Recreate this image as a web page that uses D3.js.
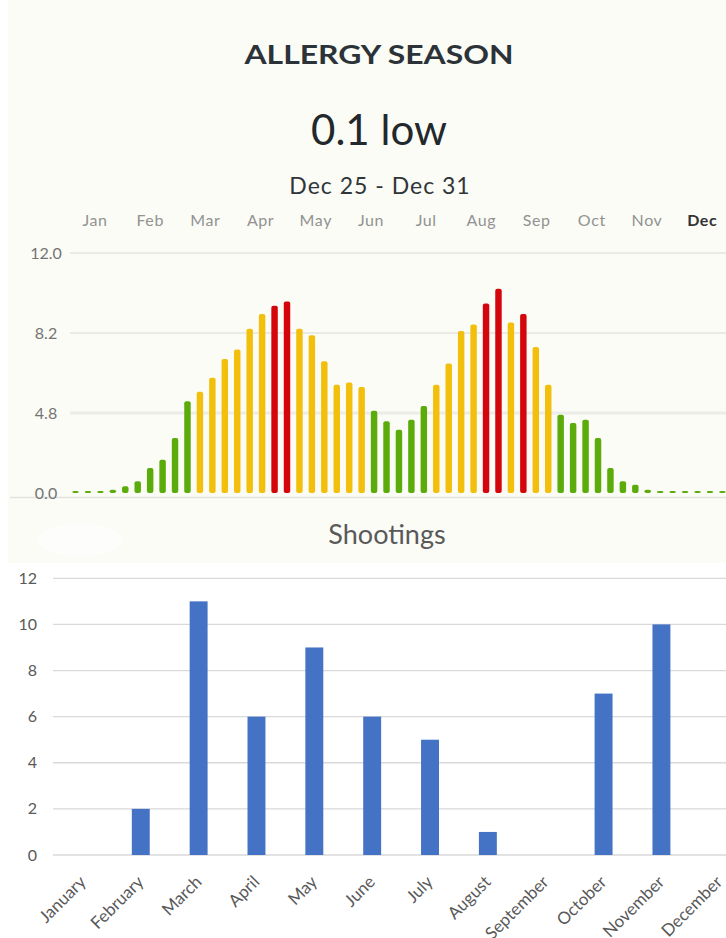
<!DOCTYPE html>
<html><head><meta charset="utf-8">
<script src="https://cdn.jsdelivr.net/npm/d3@7"></script>
<style>html,body{margin:0;padding:0;background:#fff;overflow:hidden}svg{display:block}</style>
</head><body>
<svg id="c" width="726" height="938"></svg>
<script>
// ---- Allergy data (weekly pollen index) ----
const allergyValues = [0.1,0.1,0.1,0.2,0.4,0.7,1.5,2.0,3.3,5.3,5.7,6.3,7.1,7.5,8.4,9.1,9.5,9.7,8.4,8.1,7.0,6.0,6.1,5.9,4.9,4.3,3.8,4.4,5.1,6.0,6.9,8.3,8.6,9.6,10.3,8.7,9.1,7.6,6.0,4.7,4.2,4.4,3.3,1.5,0.7,0.5,0.2,0.1,0.1,0.1,0.1,0.1,0.1];
const allergyLevels = ["L","L","L","L","L","L","L","L","L","L","M","M","M","M","M","M","H","H","M","M","M","M","M","M","L","L","L","L","L","M","M","M","M","H","H","M","H","M","M","L","L","L","L","L","L","L","L","L","L","L","L","L","L"];
const allergyTicks = [0.0, 4.8, 8.2, 12.0];
const monthShort = ["Jan","Feb","Mar","Apr","May","Jun","Jul","Aug","Sep","Oct","Nov","Dec"];
const levelColors = {L:"#5bab0b", M:"#f2c00c", H:"#d4060c"};

// ---- Shootings data ----
const shootMonths = ["January","February","March","April","May","June","July","August","September","October","November","December"];
const shootValues = [0,2,11,6,9,6,5,1,0,7,10,0];
const shootTicks = [0,2,4,6,8,10,12];

const svg = d3.select("#c");

// backgrounds
svg.append("rect").attr("x",0).attr("y",0).attr("width",726).attr("height",938).attr("fill","#ffffff");
svg.append("rect").attr("x",8).attr("y",0).attr("width",718).attr("height",563).attr("fill","#fbfcf6");
svg.append("ellipse").attr("cx",80).attr("cy",540).attr("rx",42).attr("ry",16).attr("fill","#ffffff").attr("opacity",0.55);

// ---- Allergy header ----
const F1 = "Lato, 'Open Sans', sans-serif";
svg.append("text").attr("x",379).attr("y",64).attr("text-anchor","middle")
  .attr("font-family",F1).attr("font-weight",700).attr("font-size",26)
  .attr("textLength",269).attr("lengthAdjust","spacingAndGlyphs")
  .attr("fill","#2c3338").text("ALLERGY SEASON");
svg.append("text").attr("x",379).attr("y",145).attr("text-anchor","middle")
  .attr("font-family",F1).attr("font-weight",400).attr("font-size",42)
  .attr("fill","#23282c").text("0.1 low");
svg.append("text").attr("x",380).attr("y",194).attr("text-anchor","middle")
  .attr("font-family",F1).attr("font-weight",400).attr("font-size",23)
  .attr("letter-spacing",1).attr("fill","#30353a").text("Dec 25 - Dec 31");

// month scale
const xm = d3.scaleBand().domain(monthShort).range([67.4, 729.8]);
svg.append("g").selectAll("text").data(monthShort).join("text")
  .attr("x", d => xm(d) + xm.bandwidth()/2).attr("y", 226)
  .attr("text-anchor","middle").attr("font-family",F1).attr("font-size",16)
  .attr("letter-spacing",0.6)
  .attr("font-weight", d => d==="Dec" ? 700 : 400)
  .attr("fill", d => d==="Dec" ? "#333" : "#929292").text(d => d);

// y scale (piecewise, equally spaced ticks)
const ya = d3.scaleLinear().domain(allergyTicks).range([493,413,333,253]);
const ga = svg.append("g");
allergyTicks.slice(1).forEach(t => {
  ga.append("line").attr("x1",70).attr("x2",726).attr("y1",ya(t)).attr("y2",ya(t))
    .attr("stroke", t===4.8 ? "#ececea" : "#e4e4e2").attr("stroke-width", t===4.8 ? 3 : 1.5);
});
ga.append("line").attr("x1",10).attr("x2",726).attr("y1",497.5).attr("y2",497.5).attr("stroke","#e2e2e0").attr("stroke-width",1.5);
ga.selectAll("text").data(allergyTicks).join("text")
  .attr("x",46).attr("y", d => ya(d) + 6).attr("text-anchor","middle")
  .attr("font-family",F1).attr("font-size",16).attr("fill","#747474")
  .text(d => d.toFixed(1));

// bars
const xw = d3.scaleBand().domain(d3.range(allergyValues.length)).range([69.3, 69.3 + 53*12.44]).paddingInner(0.48).paddingOuter(0.24);
svg.append("g").selectAll("rect").data(allergyValues).join("rect")
  .attr("x",(d,i) => xw(i)).attr("width", xw.bandwidth())
  .attr("y",(d) => Math.min(ya(d), ya(0)-2)).attr("height", d => Math.max(ya(0)-ya(d), 2))
  .attr("rx",2)
  .attr("fill",(d,i) => levelColors[allergyLevels[i]]);

// ---- Shootings chart ----
const F2 = "Lato, 'Open Sans', sans-serif";
svg.append("text").attr("x",387).attr("y",544).attr("text-anchor","middle")
  .attr("font-family",F2).attr("font-size",27).attr("fill","#595959").text("Shootings");

const ys = d3.scaleLinear().domain([0,12]).range([855,578.3]);
const xs = d3.scaleBand().domain(shootMonths).range([54, 54+12*57.85]).paddingInner(0.69).paddingOuter(0.345);

const gs = svg.append("g");
gs.selectAll("line").data(shootTicks).join("line")
  .attr("x1",53).attr("x2",726).attr("y1",d => ys(d)).attr("y2",d => ys(d))
  .attr("stroke","#d9d9d9").attr("stroke-width",1.3);
gs.selectAll("text.yl").data(shootTicks).join("text").attr("class","yl")
  .attr("x",37).attr("y",d => ys(d)+5.5).attr("text-anchor","end")
  .attr("font-family",F2).attr("font-size",16).attr("fill","#595959").text(d => d);

svg.append("g").selectAll("rect").data(shootValues).join("rect")
  .attr("x",(d,i) => xs(shootMonths[i])).attr("width",xs.bandwidth())
  .attr("y",d => ys(d)).attr("height",d => ys(0)-ys(d))
  .attr("fill","#4472c4");

svg.append("g").selectAll("text").data(shootMonths).join("text")
  .attr("transform", d => `translate(${xs(d)+xs.bandwidth()/2+4},${883}) rotate(-45)`)
  .attr("text-anchor","end").attr("font-family",F2).attr("font-size",17)
  .attr("fill","#595959").text(d => d);
</script>
</body></html>
